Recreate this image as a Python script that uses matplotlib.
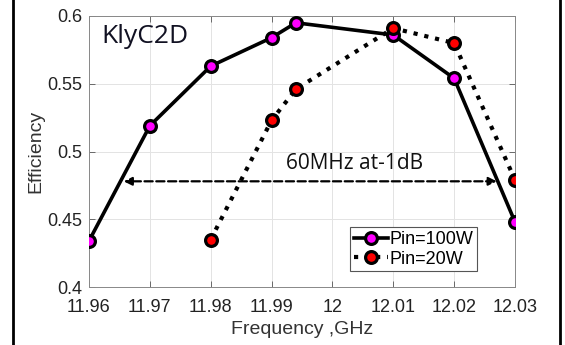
import matplotlib.pyplot as plt
from matplotlib.lines import Line2D

freq_100w = [11.96, 11.97, 11.98, 11.99, 11.994, 12.01, 12.02, 12.03]
eff_100w = [0.434, 0.519, 0.563, 0.584, 0.595, 0.586, 0.554, 0.448]

freq_20w = [11.98, 11.99, 11.994, 12.01, 12.02, 12.03]
eff_20w = [0.435, 0.523, 0.546, 0.591, 0.580, 0.479]

x_ticks = [11.96, 11.97, 11.98, 11.99, 12.0, 12.01, 12.02, 12.03]
x_tick_labels = ["11.96", "11.97", "11.98", "11.99", "12", "12.01", "12.02", "12.03"]
y_ticks = [0.4, 0.45, 0.5, 0.55, 0.6]
y_tick_labels = ["0.4", "0.45", "0.5", "0.55", "0.6"]

plt.rcParams["font.family"] = ["Liberation Sans", "DejaVu Sans"]

fig = plt.figure(figsize=(5.65, 3.45), dpi=100)
ax = fig.add_axes([89 / 565, 1 - 287 / 345, (515 - 89) / 565, (287 - 16) / 345])

ax.plot(freq_100w, eff_100w, color="black", lw=2.6, marker="o", ms=8.5,
        mfc="#ff00ff", mec="black", mew=2.3, label="Pin=100W", zorder=3)
ax.plot(freq_20w, eff_20w, color="black", lw=3, ls=":", marker="o", ms=8.5,
        mfc="#ff0000", mec="black", mew=2.3, label="Pin=20W", zorder=3)

# -1 dB bandwidth arrow
ax.annotate("", xy=(11.9657, 0.478), xytext=(12.0270, 0.478),
            arrowprops=dict(arrowstyle="<|-|>", ls="--", lw=1.6, color="black",
                            mutation_scale=12, shrinkA=0, shrinkB=0))
ax.text(12.0037, 0.4915, "60MHz at-1dB", ha="center", va="center",
        fontsize=15, family=["Open Sans", "DejaVu Sans"], color="#111111")
ax.text(11.962, 0.585, "KlyC2D", ha="left", va="center",
        fontsize=19, family=["Open Sans", "DejaVu Sans"], color="#111122")

ax.set_xlim(11.96, 12.03)
ax.set_ylim(0.4, 0.6)
ax.set_xticks(x_ticks)
ax.set_xticklabels(x_tick_labels)
ax.set_yticks(y_ticks)
ax.set_yticklabels(y_tick_labels)
ax.tick_params(direction="in", top=True, right=True, labelsize=13,
               length=4, width=0.6, colors="#555555", labelcolor="#222222")
ax.tick_params(axis="x", pad=9)
ax.tick_params(axis="y", pad=5)
ax.grid(True, color="#e3e3e3", lw=0.7)
ax.set_axisbelow(True)
for s in ax.spines.values():
    s.set_color("#888888")
    s.set_linewidth(0.7)

ax.set_xlabel("Frequency ,GHz", fontsize=14, color="#333333", labelpad=3)
ax.set_ylabel("Efficiency", fontsize=14, color="#333333", labelpad=2)

leg = ax.legend(loc="lower right", bbox_to_anchor=(0.91, 0.058), fontsize=13,
                handlelength=1.9, handletextpad=0.05, borderpad=0.2,
                labelspacing=0.15, fancybox=False, framealpha=1, borderaxespad=0)
leg.get_frame().set_edgecolor("#555555")
leg.get_frame().set_linewidth(0.8)

# side borders of the original image
fig.add_artist(Line2D([13 / 565, 13 / 565], [0, 1], color="black", lw=2))
fig.add_artist(Line2D([560 / 565, 560 / 565], [0, 1], color="black", lw=2))

fig.savefig("out.png", dpi=100)
